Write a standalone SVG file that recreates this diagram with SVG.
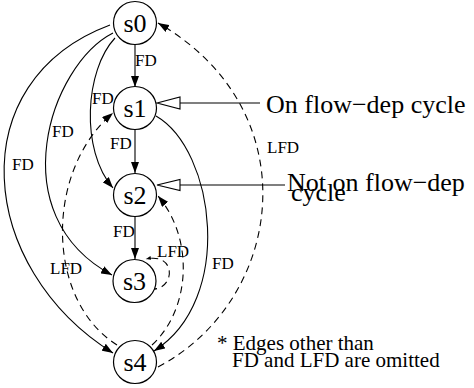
<svg xmlns="http://www.w3.org/2000/svg" width="474" height="388" viewBox="0 0 474 388">
<style>
.n{fill:#fff;stroke:#000;stroke-width:1.2}
.nl{font-family:"Liberation Serif","Times New Roman",serif;font-size:26px;text-anchor:middle;fill:#000}
.e{fill:none;stroke:#000;stroke-width:1.1}
.d{stroke-dasharray:7,5}
.el{font-family:"Liberation Serif","Times New Roman",serif;font-size:17px;fill:#000}
.side{font-family:"Liberation Serif","Times New Roman",serif;font-size:26px;fill:#000}
.note{font-family:"Liberation Serif","Times New Roman",serif;font-size:21px;fill:#000}
.open{fill:#fff;stroke:#000;stroke-width:1.1}
</style>
<defs>
<marker id="a" viewBox="0 0 11 8" refX="11" refY="4" markerWidth="11" markerHeight="8" markerUnits="userSpaceOnUse" orient="auto"><path d="M0,0 L11,4 L0,8 z" fill="#000"/></marker>
<marker id="sa" viewBox="0 0 5 4" refX="5" refY="2" markerWidth="5" markerHeight="4" markerUnits="userSpaceOnUse" orient="auto"><path d="M0,0 L5,2 L0,4 z" fill="#000"/></marker>
</defs>
<g id="edges">
<path class="e" d="M135,45 L135,87" marker-end="url(#a)"/>
<path class="e" d="M135,130 L135,173" marker-end="url(#a)"/>
<path class="e" d="M135,217 L135,259" marker-end="url(#a)"/>
<path class="e" d="M115,38 C85,70 80,150 113,188" marker-end="url(#a)"/>
<path class="e" d="M113,33 C50,65 0,215 112,275" marker-end="url(#a)"/>
<path class="e" d="M110,25 C-40,81 -23,268 113,353" marker-end="url(#a)"/>
<path class="e" d="M156,116 C215,150 235,300 154,351" marker-end="url(#a)"/>
<path class="e d" d="M158,367 C285,300 310,110 158,23" marker-end="url(#a)"/>
<path class="e d" d="M117,345 C45,300 45,170 113,113" marker-end="url(#a)"/>
<path class="e d" d="M152,345 C190,310 195,240 158,196" marker-end="url(#a)"/>
<path class="e d" d="M150,289 C175,292 178,252 146,259" marker-end="url(#sa)"/>
<text class="el" x="135" y="66">FD</text>
<text class="el" x="110" y="149">FD</text>
<text class="el" x="92" y="104">FD</text>
<text class="el" x="52" y="137">FD</text>
<text class="el" x="12" y="170">FD</text>
<text class="el" x="113" y="237">FD</text>
<text class="el" x="212" y="269">FD</text>
<text class="el" x="267" y="153">LFD</text>
<text class="el" x="50" y="274">LFD</text>
<text class="el" x="157" y="257">LFD</text>
</g>
<g id="s0"><circle class="n" cx="135" cy="23" r="21.5"/><text class="nl" x="135" y="32">s0</text></g>
<g id="s1"><circle class="n" cx="135" cy="108" r="21.5"/><text class="nl" x="135" y="117">s1</text></g>
<g id="s2"><circle class="n" cx="135" cy="195" r="21.5"/><text class="nl" x="135" y="204">s2</text></g>
<g id="s3"><circle class="n" cx="134.5" cy="281" r="21.5"/><text class="nl" x="134.5" y="290">s3</text></g>
<g id="s4"><circle class="n" cx="135" cy="362" r="21.5"/><text class="nl" x="135" y="371">s4</text></g>
<g id="label-on">
<line class="e" x1="180" y1="103" x2="260" y2="103"/>
<polygon class="open" points="157,103 180,97 180,109"/>
<text class="side" x="266" y="113">On flow−dep cycle</text>
</g>
<g id="label-not">
<line class="e" x1="180" y1="185" x2="285" y2="185"/>
<polygon class="open" points="157,185 180,179.5 180,190.5"/>
<text class="side" x="287" y="191">Not on flow−dep</text>
<text class="side" x="291" y="201">cycle</text>
</g>
<g id="note">
<text class="note" x="217" y="350">* Edges other than</text>
<text class="note" x="232" y="367">FD and LFD are omitted</text>
</g>
</svg>
